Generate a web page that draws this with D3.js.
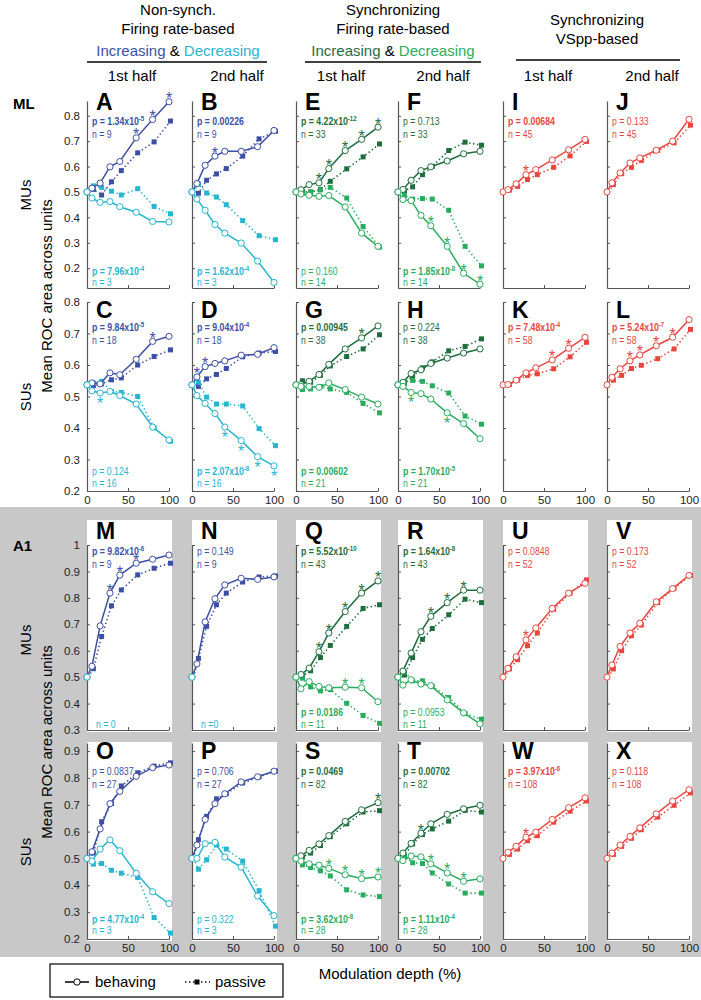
<!DOCTYPE html>
<html>
<head>
<meta charset="utf-8">
<script src="https://cdn.jsdelivr.net/npm/d3@7"></script>
<style>
  body { margin: 0; background: #fff; }
  text { font-family: "Liberation Sans", Arial, sans-serif; }
</style>
</head>
<body>
<div id="wrapper"></div>
<script>
// 1. Data

const depths = [0, 6, 16, 28, 40, 60, 80, 100]

// ML multi-units (row 1)
const A_incBeh = [0.5, 0.515, 0.535, 0.599, 0.62, 0.713, 0.785, 0.855]
const A_incPas = [0.5, 0.51, 0.488, 0.54, 0.584, 0.654, 0.697, 0.779]
const A_decBeh = [0.5, 0.476, 0.459, 0.462, 0.442, 0.42, 0.384, 0.382]
const A_decPas = [0.5, 0.524, 0.518, 0.503, 0.488, 0.513, 0.443, 0.414]
const B_incBeh = [0.5, 0.533, 0.605, 0.641, 0.66, 0.66, 0.678, 0.742]
const B_incPas = [0.5, 0.495, 0.546, 0.571, 0.592, 0.641, 0.709, 0.739]
const B_decBeh = [0.5, 0.472, 0.428, 0.372, 0.338, 0.299, 0.228, 0.144]
const B_decPas = [0.5, 0.532, 0.496, 0.48, 0.45, 0.387, 0.328, 0.312]
const E_incBeh = [0.5, 0.509, 0.529, 0.536, 0.592, 0.663, 0.707, 0.755]
const E_incPas = [0.5, 0.502, 0.5, 0.51, 0.542, 0.591, 0.638, 0.689]
const E_decBeh = [0.5, 0.492, 0.487, 0.483, 0.486, 0.441, 0.338, 0.286]
const E_decPas = [0.5, 0.496, 0.499, 0.508, 0.518, 0.476, 0.364, 0.283]
const F_incBeh = [0.5, 0.51, 0.546, 0.584, 0.599, 0.622, 0.65, 0.66]
const F_incPas = [0.5, 0.505, 0.52, 0.568, 0.601, 0.663, 0.696, 0.684]
const F_decBeh = [0.5, 0.47, 0.466, 0.408, 0.367, 0.286, 0.18, 0.137]
const F_decPas = [0.5, 0.486, 0.472, 0.474, 0.472, 0.428, 0.286, 0.209]
const I_beh = [0.5, 0.509, 0.532, 0.568, 0.588, 0.626, 0.666, 0.707]
const I_pas = [0.5, 0.507, 0.522, 0.549, 0.568, 0.597, 0.642, 0.699]
const J_beh = [0.5, 0.536, 0.575, 0.614, 0.634, 0.664, 0.7, 0.786]
const J_pas = [0.5, 0.529, 0.572, 0.597, 0.624, 0.664, 0.693, 0.763]

// ML single units (row 2)
const C_incBeh = [0.537, 0.543, 0.54, 0.575, 0.569, 0.618, 0.675, 0.691]
const C_incPas = [0.537, 0.535, 0.54, 0.553, 0.559, 0.6, 0.627, 0.648]
const C_decBeh = [0.537, 0.518, 0.511, 0.516, 0.503, 0.476, 0.403, 0.362]
const C_decPas = [0.537, 0.543, 0.548, 0.516, 0.513, 0.5, 0.401, 0.358]
const D_incBeh = [0.537, 0.562, 0.595, 0.605, 0.613, 0.631, 0.634, 0.655]
const D_incPas = [0.537, 0.532, 0.556, 0.57, 0.589, 0.626, 0.638, 0.643]
const D_decBeh = [0.537, 0.503, 0.478, 0.446, 0.403, 0.36, 0.309, 0.28]
const D_decPas = [0.537, 0.545, 0.498, 0.476, 0.476, 0.47, 0.398, 0.344]
const G_incBeh = [0.537, 0.538, 0.548, 0.57, 0.602, 0.651, 0.686, 0.724]
const G_incPas = [0.537, 0.55, 0.545, 0.567, 0.597, 0.627, 0.651, 0.696]
const G_decBeh = [0.537, 0.532, 0.532, 0.529, 0.543, 0.522, 0.498, 0.476]
const G_decPas = [0.537, 0.522, 0.524, 0.532, 0.524, 0.513, 0.478, 0.448]
const H_incBeh = [0.537, 0.545, 0.573, 0.585, 0.605, 0.622, 0.638, 0.651]
const H_incPas = [0.537, 0.541, 0.565, 0.591, 0.61, 0.645, 0.659, 0.683]
const H_decBeh = [0.537, 0.532, 0.513, 0.509, 0.492, 0.448, 0.414, 0.366]
const H_decPas = [0.537, 0.545, 0.551, 0.548, 0.534, 0.511, 0.438, 0.412]
const K_beh = [0.537, 0.538, 0.552, 0.575, 0.591, 0.616, 0.653, 0.688]
const K_pas = [0.537, 0.538, 0.552, 0.567, 0.572, 0.588, 0.626, 0.672]
const L_beh = [0.537, 0.561, 0.588, 0.613, 0.632, 0.661, 0.688, 0.744]
const L_pas = [0.537, 0.552, 0.567, 0.589, 0.599, 0.62, 0.651, 0.713]

// A1 multi-units (row 3)
const M_incBeh = [0.5, 0.541, 0.694, 0.818, 0.886, 0.931, 0.946, 0.962]
const M_incPas = [0.5, 0.532, 0.654, 0.77, 0.83, 0.887, 0.912, 0.931]
const M_decBeh = [0.5]
const N_incBeh = [0.5, 0.55, 0.709, 0.797, 0.849, 0.874, 0.87, 0.879]
const N_incPas = [0.5, 0.571, 0.692, 0.774, 0.818, 0.86, 0.879, 0.883]
const N_decBeh = [0.5]
const Q_incBeh = [0.5, 0.51, 0.534, 0.596, 0.667, 0.748, 0.818, 0.864]
const Q_incPas = [0.5, 0.505, 0.524, 0.574, 0.62, 0.692, 0.76, 0.774]
const Q_decBeh = [0.5, 0.456, 0.483, 0.465, 0.46, 0.462, 0.46, 0.407]
const Q_decPas = [0.5, 0.496, 0.463, 0.448, 0.453, 0.401, 0.355, 0.325]
const R_incBeh = [0.5, 0.523, 0.591, 0.672, 0.73, 0.782, 0.829, 0.829]
const R_incPas = [0.5, 0.508, 0.574, 0.643, 0.684, 0.736, 0.795, 0.782]
const R_decBeh = [0.5, 0.47, 0.49, 0.474, 0.468, 0.414, 0.365, 0.323]
const R_decPas = [0.5, 0.52, 0.486, 0.486, 0.465, 0.423, 0.362, 0.341]
const U_beh = [0.5, 0.533, 0.577, 0.641, 0.686, 0.76, 0.818, 0.855]
const U_pas = [0.5, 0.531, 0.566, 0.619, 0.667, 0.757, 0.818, 0.868]
const V_beh = [0.5, 0.546, 0.616, 0.667, 0.704, 0.785, 0.835, 0.885]
const V_pas = [0.5, 0.531, 0.6, 0.657, 0.697, 0.782, 0.836, 0.885]

// A1 single units (row 4)
const O_incBeh = [0.5, 0.525, 0.61, 0.704, 0.75, 0.806, 0.838, 0.848]
const O_incPas = [0.5, 0.52, 0.637, 0.705, 0.77, 0.819, 0.844, 0.856]
const O_decBeh = [0.5, 0.49, 0.535, 0.569, 0.529, 0.445, 0.376, 0.332]
const O_decPas = [0.5, 0.479, 0.481, 0.456, 0.445, 0.429, 0.28, 0.222]
const P_incBeh = [0.5, 0.55, 0.645, 0.704, 0.741, 0.785, 0.804, 0.825]
const P_incPas = [0.5, 0.57, 0.657, 0.722, 0.741, 0.781, 0.804, 0.826]
const P_decBeh = [0.5, 0.5, 0.555, 0.56, 0.505, 0.468, 0.36, 0.287]
const P_decPas = [0.5, 0.46, 0.495, 0.55, 0.535, 0.49, 0.38, 0.248]
const S_incBeh = [0.5, 0.51, 0.53, 0.554, 0.585, 0.638, 0.681, 0.708]
const S_incPas = [0.5, 0.505, 0.52, 0.548, 0.581, 0.629, 0.673, 0.678]
const S_decBeh = [0.5, 0.49, 0.48, 0.475, 0.463, 0.439, 0.425, 0.431]
const S_decPas = [0.5, 0.476, 0.466, 0.454, 0.435, 0.383, 0.364, 0.358]
const T_incBeh = [0.5, 0.52, 0.556, 0.594, 0.629, 0.664, 0.685, 0.698]
const T_incPas = [0.5, 0.51, 0.554, 0.589, 0.61, 0.639, 0.679, 0.673]
const T_decBeh = [0.5, 0.492, 0.509, 0.506, 0.48, 0.446, 0.415, 0.424]
const T_decPas = [0.5, 0.511, 0.484, 0.481, 0.446, 0.405, 0.371, 0.371]
const W_beh = [0.5, 0.523, 0.545, 0.579, 0.598, 0.645, 0.689, 0.726]
const W_pas = [0.5, 0.515, 0.535, 0.566, 0.585, 0.635, 0.676, 0.714]
const X_beh = [0.5, 0.52, 0.55, 0.582, 0.614, 0.666, 0.714, 0.756]
const X_pas = [0.5, 0.515, 0.545, 0.575, 0.607, 0.654, 0.698, 0.744]

// significant depths (asterisks)
const A_incStar = [60, 80, 100]
const B_incStar = [28]
const C_incStar = [80], C_decStar = [16]
const D_incStar = [6, 16], D_decStar = [40, 60, 80, 100]
const E_incStar = [28, 40, 60, 80, 100]
const F_decStar = [40, 60, 80, 100]
const G_incStar = [80]
const H_decStar = [16, 60]
const I_star = [28]
const K_star = [60, 80]
const L_star = [28, 40, 60, 80]
const M_incStar = [28, 40, 60]
const Q_incStar = [28, 40, 60, 80, 100], Q_decStar = [60, 80]
const R_incStar = [40, 60, 80]
const S_incStar = [100], S_decStar = [40, 60, 80, 100]
const T_incStar = [28], T_decStar = [40, 60, 80]
const U_star = [28]
const W_star = [28]
const starsBelow = ["C", "D", "H"]

// panel texts, row-major order
const panelIds = ["A", "B", "E", "F", "I", "J",
                  "C", "D", "G", "H", "K", "L",
                  "M", "N", "Q", "R", "U", "V",
                  "O", "P", "S", "T", "W", "X"]
const pTop = ["1.34x10^-5", "0.00226", "4.22x10^-12", "0.713", "0.00684", "0.133",
              "9.84x10^-5", "9.04x10^-4", "0.00945", "0.224", "7.48x10^-4", "5.24x10^-7",
              "9.82x10^-6", "0.149", "5.52x10^-10", "1.64x10^-8", "0.0848", "0.173",
              "0.0837", "0.706", "0.0469", "0.00702", "3.97x10^-6", "0.118"]
const nTop = ["n = 9", "n = 9", "n = 33", "n = 33", "n = 45", "n = 45",
              "n = 18", "n = 18", "n = 38", "n = 38", "n = 58", "n = 58",
              "n = 9", "n = 9", "n = 43", "n = 43", "n = 52", "n = 52",
              "n = 27", "n = 27", "n = 82", "n = 82", "n = 108", "n = 108"]
const pBot = ["7.96x10^-4", "1.62x10^-4", "0.160", "1.85x10^-8", null, null,
              "0.124", "2.07x10^-8", "0.00602", "1.70x10^-5", null, null,
              null, null, "0.0186", "0.0953", null, null,
              "4.77x10^-4", "0.322", "3.62x10^-8", "1.11x10^-4", null, null]
const nBot = ["n = 3", "n = 3", "n = 14", "n = 14", null, null,
              "n = 16", "n = 16", "n = 21", "n = 21", null, null,
              "n = 0", "n =0", "n = 11", "n = 11", null, null,
              "n = 3", "n = 3", "n = 28", "n = 28", null, null]

const rowTicks = [
  [0.2, 0.3, 0.4, 0.5, 0.6, 0.7, 0.8],
  [0.2, 0.3, 0.4, 0.5, 0.6, 0.7, 0.8],
  [0.3, 0.4, 0.5, 0.6, 0.7, 0.8, 0.9, 1],
  [0.2, 0.3, 0.4, 0.5, 0.6, 0.7, 0.8, 0.9],
]
const rowDomains = [[0.122, 0.858], [0.2, 0.8], [0.3, 1.0], [0.2, 0.93]]
const xTicks = [0, 50, 100]

// colours per column pair
const incColors = ["#3d4fa3", "#1f6d3d", "#e8453f"]
const decColors = ["#27b5d0", "#2aac5f", "#e8453f"]

// table built from the arrays above
const panels = {
  A: { inc: [A_incBeh, A_incPas], dec: [A_decBeh, A_decPas], incStar: A_incStar },
  B: { inc: [B_incBeh, B_incPas], dec: [B_decBeh, B_decPas], incStar: B_incStar },
  E: { inc: [E_incBeh, E_incPas], dec: [E_decBeh, E_decPas], incStar: E_incStar },
  F: { inc: [F_incBeh, F_incPas], dec: [F_decBeh, F_decPas], decStar: F_decStar },
  I: { inc: [I_beh, I_pas], incStar: I_star },
  J: { inc: [J_beh, J_pas] },
  C: { inc: [C_incBeh, C_incPas], dec: [C_decBeh, C_decPas], incStar: C_incStar, decStar: C_decStar },
  D: { inc: [D_incBeh, D_incPas], dec: [D_decBeh, D_decPas], incStar: D_incStar, decStar: D_decStar },
  G: { inc: [G_incBeh, G_incPas], dec: [G_decBeh, G_decPas], incStar: G_incStar },
  H: { inc: [H_incBeh, H_incPas], dec: [H_decBeh, H_decPas], decStar: H_decStar },
  K: { inc: [K_beh, K_pas], incStar: K_star },
  L: { inc: [L_beh, L_pas], incStar: L_star },
  M: { inc: [M_incBeh, M_incPas], dec: [M_decBeh, []], incStar: M_incStar },
  N: { inc: [N_incBeh, N_incPas], dec: [N_decBeh, []] },
  Q: { inc: [Q_incBeh, Q_incPas], dec: [Q_decBeh, Q_decPas], incStar: Q_incStar, decStar: Q_decStar },
  R: { inc: [R_incBeh, R_incPas], dec: [R_decBeh, R_decPas], incStar: R_incStar },
  U: { inc: [U_beh, U_pas], incStar: U_star },
  V: { inc: [V_beh, V_pas] },
  O: { inc: [O_incBeh, O_incPas], dec: [O_decBeh, O_decPas] },
  P: { inc: [P_incBeh, P_incPas], dec: [P_decBeh, P_decPas] },
  S: { inc: [S_incBeh, S_incPas], dec: [S_decBeh, S_decPas], incStar: S_incStar, decStar: S_decStar },
  T: { inc: [T_incBeh, T_incPas], dec: [T_decBeh, T_decPas], incStar: T_incStar, decStar: T_decStar },
  W: { inc: [W_beh, W_pas], incStar: W_star },
  X: { inc: [X_beh, X_pas] },
}

// 2. Dimensions

const dimensions = {
  width: 701,
  height: 1000,
  colX: [87, 192, 296, 398, 503, 607],
  panelWidth: 82,
  rowTop: [101, 302, 545, 743],
  rowBottom: [288, 491, 730, 939],
  letterY: [110, 318, 539, 759],
  pTopY: [125, 331, 555, 775],
  nTopY: [137.5, 344, 568, 788],
  pBotY: [275, 475, 716, 923],
  nBotY: [286, 487, 728, 934],
}

// 3. Canvas

const wrapper = d3.select("#wrapper")
  .append("svg")
    .attr("width", dimensions.width)
    .attr("height", dimensions.height)

wrapper.append("rect")
    .attr("x", 0).attr("y", 507)
    .attr("width", dimensions.width).attr("height", 450)
    .attr("fill", "#c8c8c8")

const pValue = s => {
  const m = s.split("x10^")
  return m.length > 1 ? +m[0] * Math.pow(10, +m[1]) : +s
}

// narrow label: squeeze horizontally like the condensed font of the original
const narrowText = (parent, x, y, color, bold) => parent.append("g")
    .attr("transform", `translate(${x},${y}) scale(0.76,1)`)
  .append("text")
    .attr("font-size", 11.5)
    .attr("font-weight", bold ? "bold" : "normal")
    .attr("fill", color)

const writeP = (sel, s) => {
  const parts = s.split("x10^")
  sel.append("tspan").text("p = " + parts[0] + (parts.length > 1 ? "x10" : ""))
  if (parts.length > 1) {
    sel.append("tspan")
        .attr("dy", -4.5)
        .attr("font-size", 8)
        .text(parts[1])
  }
}

const tickFormat = d => d === 1 ? "1" : d3.format(".1f")(d)

// 4. Panels

panelIds.forEach((id, i) => {
  const row = Math.floor(i / 6)
  const col = i % 6
  const group = Math.floor(col / 2)
  const x0 = dimensions.colX[col]
  const panel = panels[id]

  if (row >= 2) {
    wrapper.append("rect")
        .attr("x", x0)
        .attr("y", row === 2 ? 520 : 742)
        .attr("width", 85)
        .attr("height", row === 2 ? 212 : 199)
        .attr("fill", "#fff")
  }

  const xScale = d3.scaleLinear()
    .domain([0, 100])
    .range([x0, x0 + dimensions.panelWidth])
  const yScale = d3.scaleLinear()
    .domain(rowDomains[row])
    .range([dimensions.rowBottom[row], dimensions.rowTop[row]])

  const bounds = wrapper.append("g")

  // axes
  const yAxis = bounds.append("g")
      .attr("transform", `translate(${x0},0)`)
      .call(d3.axisLeft(yScale)
        .tickValues(rowTicks[row])
        .tickSizeInner(-3)
        .tickSizeOuter(0)
        .tickPadding(7)
        .tickFormat(col === 0 ? tickFormat : ""))
  const xAxis = bounds.append("g")
      .attr("transform", `translate(0,${dimensions.rowBottom[row]})`)
      .call(d3.axisBottom(xScale)
        .tickValues(xTicks)
        .tickSizeInner(-3)
        .tickSizeOuter(0)
        .tickPadding(5)
        .tickFormat(row % 2 === 1 ? d3.format("d") : ""))
  ;[yAxis, xAxis].forEach(a => {
    a.select(".domain").attr("stroke", "#555").attr("stroke-width", 1.2)
    a.selectAll(".tick line").attr("stroke", "#555")
    a.selectAll(".tick text")
        .attr("fill", "#222")
        .attr("font-size", 11.5)
        .attr("font-family", "Liberation Sans, Arial, sans-serif")
  })

  // data
  const lineGen = offset => d3.line()
    .x((d, j) => xScale(depths[j]) + offset)
    .y(d => yScale(d))

  const drawSeries = (values, color, behaving) => {
    if (!values || values.length === 0) return
    const offset = behaving ? 0 : 1.5
    bounds.append("path")
        .datum(values)
        .attr("fill", "none")
        .attr("stroke", color)
        .attr("stroke-width", behaving ? 1.5 : 1.6)
        .attr("stroke-dasharray", behaving ? null : "1.4,2.6")
        .attr("d", lineGen(offset))
    if (behaving) {
      bounds.selectAll(null)
        .data(values)
        .enter().append("circle")
          .attr("cx", (d, j) => xScale(depths[j]))
          .attr("cy", d => yScale(d))
          .attr("r", 3.1)
          .attr("fill", "#fff")
          .attr("stroke", color)
          .attr("stroke-width", 1)
    } else {
      bounds.selectAll(null)
        .data(values.slice(1))
        .enter().append("rect")
          .attr("x", (d, j) => xScale(depths[j + 1]) + offset - 2.5)
          .attr("y", d => yScale(d) - 2.5)
          .attr("width", 5)
          .attr("height", 5)
          .attr("fill", color)
    }
  }

  const drawStars = (values, stars, color, below) => {
    if (!stars) return
    bounds.selectAll(null)
      .data(stars)
      .enter().append("text")
        .attr("x", d => xScale(d))
        .attr("y", d => yScale(values[depths.indexOf(d)]) + (below ? 16 : 2.5))
        .attr("text-anchor", "middle")
        .attr("font-size", 16)
        .attr("fill", color)
        .text("*")
  }

  const incColor = incColors[group]
  const decColor = decColors[group]

  drawSeries(panel.inc[1], incColor, false)
  if (panel.dec) drawSeries(panel.dec[1], decColor, false)
  drawSeries(panel.inc[0], incColor, true)
  if (panel.dec) drawSeries(panel.dec[0], decColor, true)
  drawStars(panel.inc[0], panel.incStar, incColor, false)
  if (panel.dec) drawStars(panel.dec[0], panel.decStar, decColor, starsBelow.includes(id))

  // peripherals
  bounds.append("text")
      .attr("x", x0 + 9)
      .attr("y", dimensions.letterY[row])
      .attr("font-size", 23)
      .attr("font-weight", "bold")
      .attr("fill", "#000")
      .text(id)

  const pT = narrowText(bounds, x0 + 5, dimensions.pTopY[row], incColor, pValue(pTop[i]) < 0.05)
  writeP(pT, pTop[i])
  narrowText(bounds, x0 + 5, dimensions.nTopY[row], incColor, false).text(nTop[i])

  if (pBot[i]) {
    const pB = narrowText(bounds, x0 + 5, dimensions.pBotY[row], decColor, pValue(pBot[i]) < 0.05)
    writeP(pB, pBot[i])
  }
  if (nBot[i]) {
    narrowText(bounds, x0 + (pBot[i] ? 5 : 9), dimensions.nBotY[row], decColor, false).text(nBot[i])
  }
})

// 5. Headers

const header = wrapper.append("g").attr("font-size", 15).attr("fill", "#000")

const headerLines = [
  { x: 178, y: 15, t: "Non-synch." },
  { x: 178, y: 34, t: "Firing rate-based" },
  { x: 393, y: 15, t: "Synchronizing" },
  { x: 393, y: 34, t: "Firing rate-based" },
  { x: 597, y: 25, t: "Synchronizing" },
  { x: 597, y: 44, t: "VSpp-based" },
]
headerLines.forEach(h => {
  header.append("text")
      .attr("x", h.x).attr("y", h.y)
      .attr("text-anchor", "middle")
      .text(h.t)
})

;[[178, 0], [393, 1]].forEach(([cx, g]) => {
  const t = header.append("text")
      .attr("x", cx).attr("y", 56)
      .attr("text-anchor", "middle")
  t.append("tspan").attr("fill", incColors[g]).text("Increasing")
  t.append("tspan").attr("fill", "#000").text(" & ")
  t.append("tspan").attr("fill", decColors[g]).text("Decreasing")
})

;[[87, 267, 62], [305, 481, 62], [516, 680, 60]].forEach(([a, b, y]) => {
  header.append("line")
      .attr("x1", a).attr("x2", b)
      .attr("y1", y).attr("y2", y)
      .attr("stroke", "#000")
      .attr("stroke-width", 1.5)
})

dimensions.colX.forEach((x, c) => {
  header.append("text")
      .attr("x", x + 45).attr("y", 81)
      .attr("text-anchor", "middle")
      .text(c % 2 === 0 ? "1st half" : "2nd half")
})

// 6. Side labels

const side = wrapper.append("g").attr("font-size", 15).attr("fill", "#000")
side.append("text").attr("x", 13).attr("y", 109).attr("font-weight", "bold").text("ML")
side.append("text").attr("x", 13).attr("y", 551).attr("font-weight", "bold").text("A1")
;[["MUs", 195], ["SUs", 397], ["MUs", 640], ["SUs", 852]].forEach(([t, y]) => {
  side.append("text")
      .attr("transform", `translate(31,${y}) rotate(-90)`)
      .attr("text-anchor", "middle")
      .text(t)
})
;[296, 742].forEach(y => {
  side.append("text")
      .attr("transform", `translate(52,${y}) rotate(-90)`)
      .attr("text-anchor", "middle")
      .text("Mean ROC area across units")
})

wrapper.append("text")
    .attr("x", 390).attr("y", 979)
    .attr("text-anchor", "middle")
    .attr("font-size", 15)
    .text("Modulation depth (%)")

// 7. Legend

const legend = wrapper.append("g")
legend.append("rect")
    .attr("x", 50).attr("y", 964)
    .attr("width", 233).attr("height", 33)
    .attr("fill", "#fff")
    .attr("stroke", "#000")
    .attr("stroke-width", 1.2)
legend.append("line")
    .attr("x1", 65).attr("x2", 89).attr("y1", 982).attr("y2", 982)
    .attr("stroke", "#000").attr("stroke-width", 1.5)
legend.append("circle")
    .attr("cx", 77).attr("cy", 982).attr("r", 3.2)
    .attr("fill", "#fff").attr("stroke", "#000")
legend.append("text")
    .attr("x", 95).attr("y", 987)
    .attr("font-size", 15)
    .text("behaving")
legend.append("line")
    .attr("x1", 185).attr("x2", 210).attr("y1", 982).attr("y2", 982)
    .attr("stroke", "#000").attr("stroke-width", 1.6)
    .attr("stroke-dasharray", "1.4,2.6")
legend.append("rect")
    .attr("x", 194.5).attr("y", 979.5).attr("width", 5).attr("height", 5)
    .attr("fill", "#000")
legend.append("text")
    .attr("x", 215).attr("y", 987)
    .attr("font-size", 15)
    .text("passive")
</script>
</body>
</html>
